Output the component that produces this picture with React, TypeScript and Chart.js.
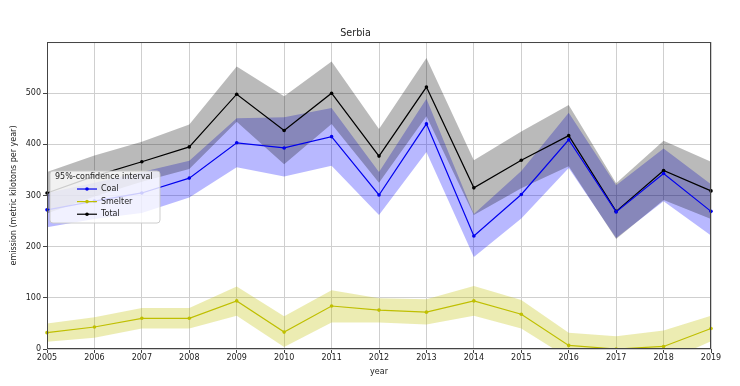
import React, { useEffect, useRef } from 'react';
import { Chart, registerables } from 'chart.js';

Chart.register(...registerables);

const years = ['2005', '2006', '2007', '2008', '2009', '2010', '2011', '2012', '2013', '2014', '2015', '2016', '2017', '2018', '2019'];

const coal = [272, 289, 305, 334, 403, 393, 415, 301, 440, 221, 302, 409, 268, 343, 269];
const coalUpper = [305, 325, 346, 368, 451, 453, 471, 346, 489, 264, 348, 462, 320, 392, 322];
const coalLower = [238, 254, 266, 296, 355, 337, 358, 262, 385, 180, 255, 354, 217, 289, 222];

const smelter = [32, 43, 60, 60, 94, 33, 84, 76, 72, 94, 68, 7, 0, 5, 40];
const smelterUpper = [50, 62, 80, 80, 122, 64, 115, 99, 97, 123, 96, 32, 25, 36, 65];
const smelterLower = [14, 22, 40, 40, 65, 4, 52, 52, 48, 65, 40, -18, -25, -26, 15];

const total = [305, 338, 366, 395, 498, 427, 500, 377, 512, 315, 369, 417, 269, 349, 309];
const totalUpper = [346, 378, 405, 439, 552, 494, 562, 430, 569, 369, 425, 477, 324, 407, 366];
const totalLower = [265, 298, 327, 352, 444, 361, 440, 325, 455, 262, 314, 357, 215, 291, 254];

const yTicks = [0, 100, 200, 300, 400, 500];

const seriesNames = ['Coal', 'Smelter', 'Total'];
const lineColors = ['#0000ee', '#bfbf00', '#000000'];
const bandColors = ['rgba(0,0,255,0.28)', 'rgba(191,191,0,0.3)', 'rgba(0,0,0,0.27)'];
const legendTitle = '95%-confidence interval';

const FONT = '"DejaVu Sans", sans-serif';

const boxPlugin = {
  id: 'boxPlugin',
  afterDatasetsDraw(chart: any) {
    const { ctx, chartArea } = chart;
    ctx.save();
    ctx.strokeStyle = '#444';
    ctx.lineWidth = 1;
    ctx.strokeRect(chartArea.left + 0.5, chartArea.top + 0.5, chartArea.right - chartArea.left - 1, chartArea.bottom - chartArea.top - 1);
    ctx.restore();
  },
  afterDraw(chart: any) {
    const { ctx, chartArea } = chart;
    const x = chartArea.left + 3;
    const y = chartArea.top + 129;
    const w = 110;
    const h = 52;
    ctx.save();
    ctx.beginPath();
    const r = 3;
    ctx.moveTo(x + r, y);
    ctx.lineTo(x + w - r, y);
    ctx.quadraticCurveTo(x + w, y, x + w, y + r);
    ctx.lineTo(x + w, y + h - r);
    ctx.quadraticCurveTo(x + w, y + h, x + w - r, y + h);
    ctx.lineTo(x + r, y + h);
    ctx.quadraticCurveTo(x, y + h, x, y + h - r);
    ctx.lineTo(x, y + r);
    ctx.quadraticCurveTo(x, y, x + r, y);
    ctx.closePath();
    ctx.fillStyle = 'rgba(255,255,255,0.8)';
    ctx.fill();
    ctx.strokeStyle = 'rgba(200,200,200,0.9)';
    ctx.lineWidth = 1;
    ctx.stroke();
    ctx.font = `8px ${FONT}`;
    ctx.fillStyle = '#222';
    ctx.textBaseline = 'middle';
    ctx.textAlign = 'left';
    ctx.fillText(legendTitle, x + 5, y + 6);
    seriesNames.forEach((name, i) => {
      const ly = y + 18 + i * 12.6;
      ctx.strokeStyle = lineColors[i];
      ctx.lineWidth = 1.2;
      ctx.beginPath();
      ctx.moveTo(x + 27, ly);
      ctx.lineTo(x + 47, ly);
      ctx.stroke();
      ctx.fillStyle = lineColors[i];
      ctx.beginPath();
      ctx.arc(x + 37, ly, 1.8, 0, Math.PI * 2);
      ctx.fill();
      ctx.fillStyle = '#222';
      ctx.fillText(name, x + 51, ly);
    });
    ctx.restore();
  },
};

function lineDs(label: string, data: number[], color: string) {
  return {
    label,
    data,
    borderColor: color,
    backgroundColor: color,
    borderWidth: 1.2,
    pointRadius: 1.8,
    pointBorderWidth: 0,
    pointBackgroundColor: color,
    fill: false,
    tension: 0,
  };
}

function bandDs(label: string, data: number[], color: string, fill: any) {
  return {
    label,
    data,
    borderColor: 'rgba(0,0,0,0)',
    backgroundColor: color,
    borderWidth: 0,
    pointRadius: 0,
    fill,
    tension: 0,
  };
}

export default function App() {
  const ref = useRef<HTMLCanvasElement>(null);
  useEffect(() => {
    if (!ref.current) return;
    const chart = new Chart(ref.current, {
      type: 'line',
      data: {
        labels: years,
        datasets: [
          lineDs(seriesNames[0], coal, lineColors[0]),
          lineDs(seriesNames[1], smelter, lineColors[1]),
          lineDs(seriesNames[2], total, lineColors[2]),
          bandDs('totalUpper', totalUpper, bandColors[2], '+1'),
          bandDs('totalLower', totalLower, bandColors[2], false),
          bandDs('smelterUpper', smelterUpper, bandColors[1], '+1'),
          bandDs('smelterLower', smelterLower, bandColors[1], false),
          bandDs('coalUpper', coalUpper, bandColors[0], '+1'),
          bandDs('coalLower', coalLower, bandColors[0], false),
        ] as any,
      },
      options: {
        responsive: false,
        animation: false,
        layout: { padding: { left: 0, right: 29, top: 0, bottom: 0 } },
        plugins: {
          legend: { display: false },
          tooltip: { enabled: false },
          title: {
            display: true,
            text: 'Serbia',
            color: '#222',
            font: { family: FONT, size: 9.6, weight: 'normal' as any },
            padding: { top: 28, bottom: 2.5 },
          },
        },
        scales: {
          x: {
            type: 'category',
            offset: false,
            grid: { color: '#cfcfcf', lineWidth: 1, tickLength: 4, tickColor: '#444', drawTicks: true },
            border: { display: false },
            ticks: { color: '#222', font: { family: FONT, size: 8 }, padding: 0, maxRotation: 0, autoSkip: false },
            title: { display: true, text: 'year', color: '#222', font: { family: FONT, size: 8 }, padding: { top: 0, bottom: 9 } },
            afterFit: (s: any) => { s.height = 37; },
          },
          y: {
            type: 'linear',
            min: 0,
            max: 600,
            afterBuildTicks: (s: any) => { s.ticks = yTicks.map((v) => ({ value: v })); },
            grid: { color: '#cfcfcf', lineWidth: 1, tickLength: 4, tickColor: '#444', drawTicks: true },
            border: { display: false },
            ticks: { color: '#222', font: { family: FONT, size: 8 }, padding: 2 },
            title: { display: true, text: 'emission (metric kilotons per year)', color: '#222', font: { family: FONT, size: 8 }, padding: { top: 9, bottom: 0 } },
            afterFit: (s: any) => { s.width = 47; },
          },
        },
      },
      plugins: [boxPlugin],
    });
    return () => chart.destroy();
  }, []);
  return (
    <div style={{ position: 'fixed', left: 0, top: 0, width: 740, height: 386, background: '#fff' }}>
      <canvas ref={ref} width={740} height={386} />
    </div>
  );
}
